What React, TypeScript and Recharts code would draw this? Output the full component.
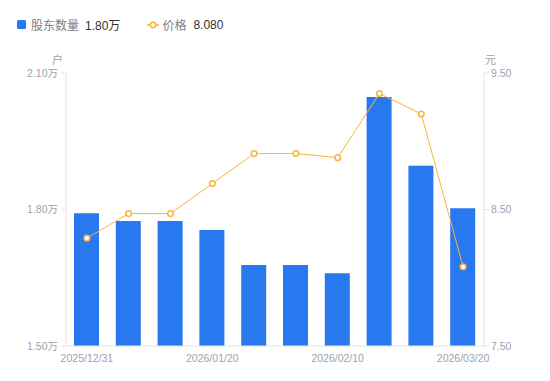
import React from 'react';
import { ComposedChart, Bar, Line, XAxis, YAxis } from 'recharts';

const dates = [
  '2025/12/31', '2026/01/09', '2026/01/15', '2026/01/20', '2026/01/31',
  '2026/02/06', '2026/02/10', '2026/02/28', '2026/03/10', '2026/03/20',
];
// 股东数量 (万户)
const holders = [1.792, 1.775, 1.775, 1.755, 1.678, 1.678, 1.66, 2.047, 1.896, 1.803];
// 价格 (元)
const prices = [8.29, 8.47, 8.47, 8.69, 8.91, 8.91, 8.88, 9.35, 9.2, 8.08];
const leftTicks = [1.5, 1.8, 2.1];
const rightTicks = [7.5, 8.5, 9.5];

const data = dates.map((d, i) => ({ date: d, holders: holders[i], price: prices[i] }));

const BLUE = '#2878f0';
const ORANGE = '#fab33c';
const AXIS = '#e3e3e6';
const TICK = '#9ea1ad';
const font = '"Liberation Sans", Arial, "Noto Sans CJK SC", sans-serif';

export default function App() {
  const tick = { fill: TICK, fontSize: 10.5, fontFamily: font };
  return (
    <div style={{ position: 'absolute', left: 0, top: 0, width: 550, height: 381, background: '#fff', fontFamily: font }}>
      {/* legend */}
      <div style={{ position: 'absolute', left: 17, top: 16, display: 'flex', alignItems: 'center', fontSize: 12, whiteSpace: 'nowrap' }}>
        <span style={{ width: 9, height: 9, background: BLUE, borderRadius: 1.5, display: 'inline-block', marginRight: 5 }} />
        <span style={{ color: '#7a7d88' }}>股东数量</span>
        <span style={{ color: '#333', marginLeft: 6 }}>1.80万</span>
        <svg width="12" height="10" style={{ marginLeft: 27, marginRight: 3 }}>
          <line x1="0" y1="5" x2="12" y2="5" stroke={ORANGE} strokeWidth="1.5" />
          <circle cx="6" cy="5" r="2.7" fill="#fff" stroke={ORANGE} strokeWidth="1.5" />
        </svg>
        <span style={{ color: '#7a7d88' }}>价格</span>
        <span style={{ color: '#333', marginLeft: 7 }}>8.080</span>
      </div>
      {/* axis units */}
      <div style={{ position: 'absolute', left: 52, top: 51, fontSize: 11, color: TICK, fontFamily: '"Noto Sans CJK SC", sans-serif' }}>户</div>
      <div style={{ position: 'absolute', left: 485, top: 51, fontSize: 11, color: TICK, fontFamily: '"Noto Sans CJK SC", sans-serif' }}>元</div>
      <ComposedChart width={550} height={381} data={data} margin={{ top: 73, right: 0, bottom: 5, left: 0 }}>
        <XAxis
          dataKey="date"
          interval={2}
          tickLine={false}
          axisLine={{ stroke: AXIS }}
          tick={tick}
          tickSize={5}
          tickMargin={4}
          height={30}
        />
        <YAxis
          yAxisId="left"
          domain={[1.5, 2.1]}
          ticks={leftTicks}
          tickFormatter={(v: number) => `${v.toFixed(2)}万`}
          width={66}
          axisLine={{ stroke: AXIS }}
          tickLine={{ stroke: AXIS }}
          tickSize={5}
          tickMargin={3}
          tick={tick}
        />
        <YAxis
          yAxisId="right"
          orientation="right"
          domain={[7.5, 9.5]}
          ticks={rightTicks}
          tickFormatter={(v: number) => v.toFixed(2)}
          width={66}
          axisLine={{ stroke: AXIS }}
          tickLine={{ stroke: AXIS }}
          tickSize={5}
          tickMargin={2}
          tick={tick}
        />
        <Bar yAxisId="left" dataKey="holders" fill={BLUE} barSize={25} isAnimationActive={false} />
        <Line
          yAxisId="right"
          dataKey="price"
          type="linear"
          stroke={ORANGE}
          strokeWidth={1}
          dot={{ r: 2.8, fill: '#fff', stroke: ORANGE, strokeWidth: 1.5 }}
          activeDot={false}
          isAnimationActive={false}
        />
      </ComposedChart>
    </div>
  );
}
